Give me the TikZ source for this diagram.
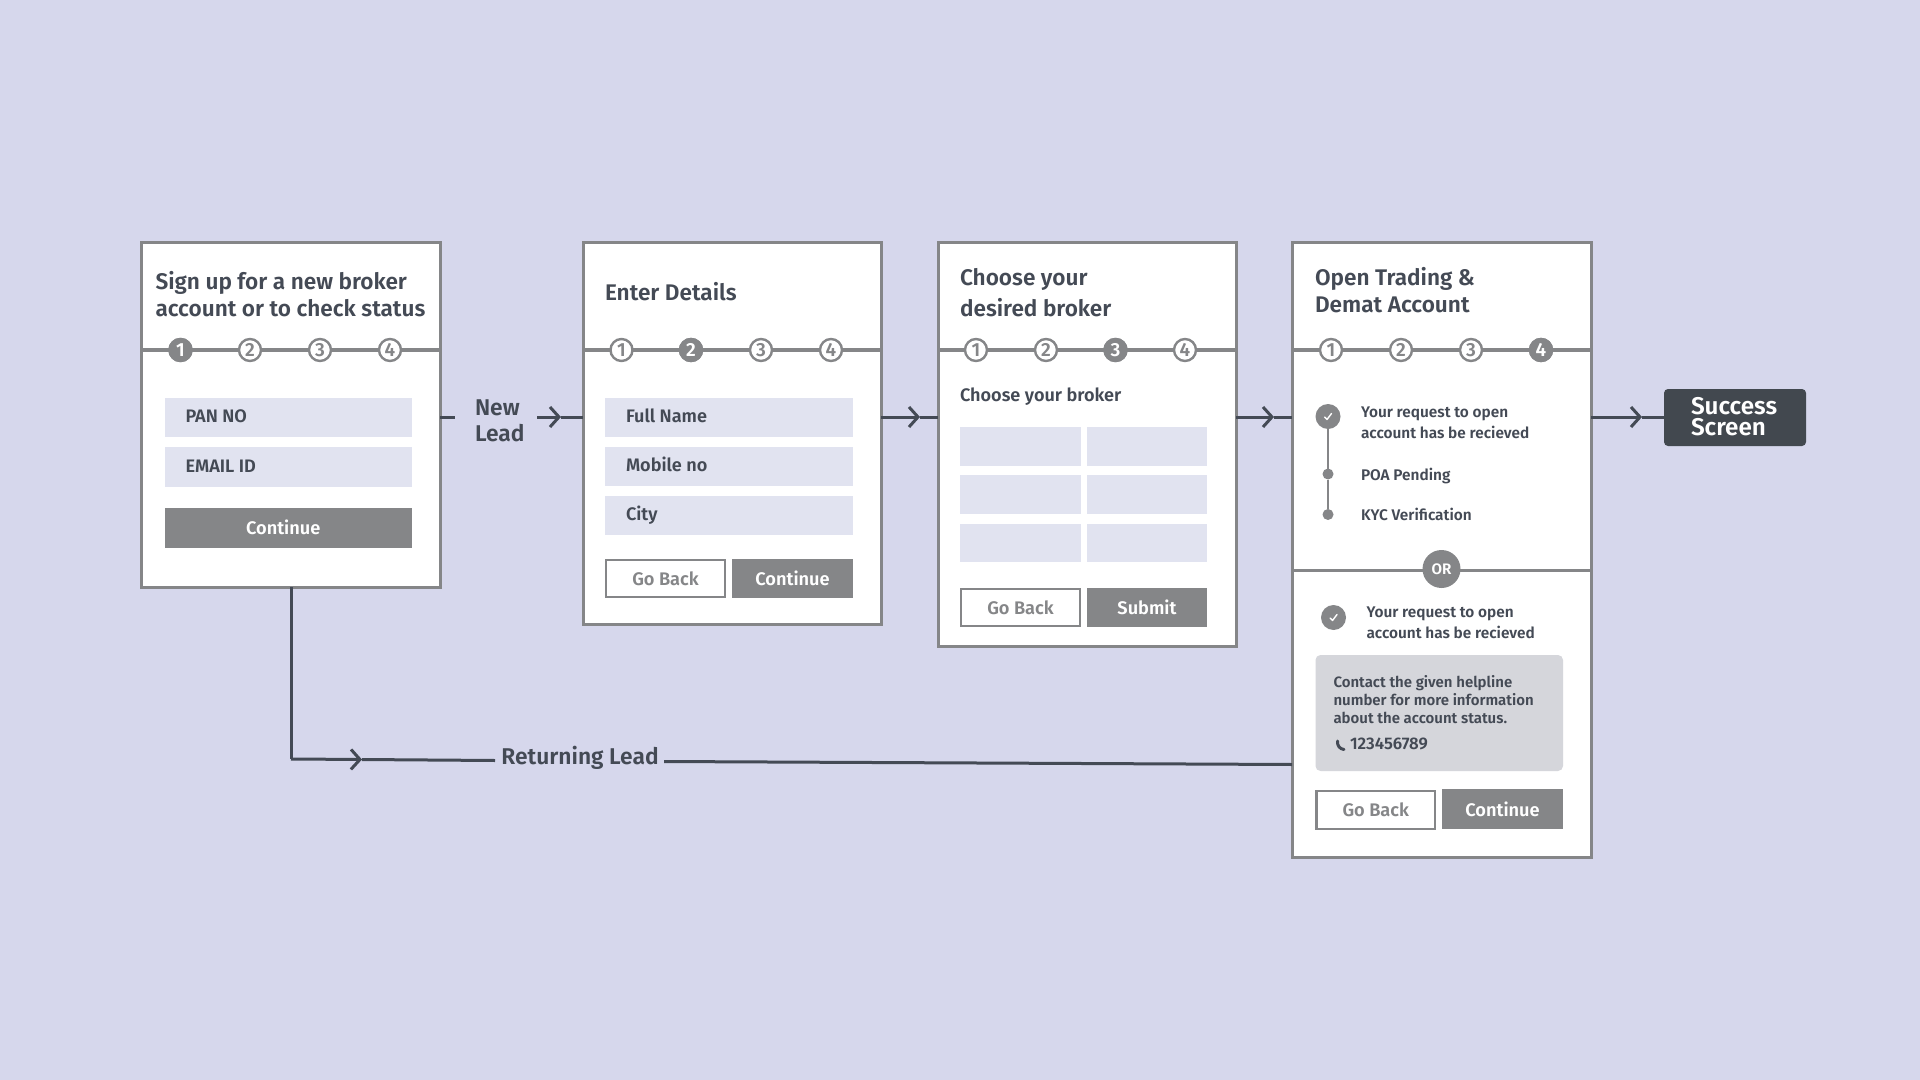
\documentclass[tikz,border=0pt]{standalone}
\usepackage{fontspec}
\setmainfont{Fira Sans}[BoldFont={Fira Sans SemiBold}]
\usetikzlibrary{arrows.meta}
\definecolor{bgc}{HTML}{D6D7EC}
\definecolor{fieldc}{HTML}{E1E3F0}
\definecolor{greyc}{HTML}{858688}
\definecolor{darkc}{HTML}{444A55}
\definecolor{notec}{HTML}{D5D6DB}
\definecolor{succ}{HTML}{42484F}
\tikzset{
 x=.5pt,y=-.5pt,
 every node/.style={inner sep=0pt,outer sep=0pt},
 cardbox/.style={draw=greyc,line width=1.5pt,fill=white},
 rule/.style={draw=greyc,line width=1.6pt},
 fieldbox/.style={fill=fieldc},
 fillbtn/.style={fill=greyc,text=white,font=\fontsize{9.1}{11}\selectfont\bfseries},
 linebtn/.style={draw=greyc,line width=1.3pt,fill=white,text=greyc,font=\fontsize{9.1}{11}\selectfont\bfseries},
 titletext/.style={text=darkc,align=left,font=\fontsize{11.3}{#1}\selectfont\bfseries},
 titletext/.default=13.5,
 fieldtext/.style={text=darkc,font=\fontsize{9.05}{11}\selectfont\bfseries,anchor=mid west},
 smalltext/.style={text=darkc,align=left,font=\fontsize{7.7}{10.5}\selectfont\bfseries},
 steppt/.style={circle,draw=greyc,line width=1.2pt,fill=white,text=greyc,minimum size=11pt,font=\fontsize{9.5}{10}\selectfont\bfseries},
 stepon/.style={circle,draw=greyc,line width=1.2pt,fill=greyc,text=white,minimum size=11pt,font=\fontsize{9.5}{10}\selectfont\bfseries},
 flow/.style={draw=darkc,line width=1.5pt},
 flowtip/.style={draw=darkc,line width=1.5pt,-{Straight Barb[length=4.5pt,width=10pt,line width=1.5pt]}},
 dotmark/.style={circle,fill=greyc,minimum size=5.5pt},
 okmark/.style={circle,fill=greyc,minimum size=12.5pt},
 tick/.style={draw=white,line width=.7pt,line cap=round,line join=round},
 flowlabel/.style={text=darkc,align=left,font=\fontsize{11.4}{13}\selectfont\bfseries},
}
\newcommand{\pxbox}[7]{\node[#6,minimum width={(#4-#2)*.5pt},minimum height={(#5-#3)*.5pt}] (#1) at ({(#2+#4)/2},{(#3+#5)/2}) {#7};}
\newcommand{\fieldrow}[6]{\pxbox{#1}{#2}{#3}{#4}{#5}{fieldbox}{}\node[fieldtext] (#1t) at ([xshift=10.5pt]#1.west) {#6};}
\newcommand{\stepnum}[1]{\if#1a1\fi\if#1b2\fi\if#1c3\fi\if#1d4\fi}
\newcommand{\stepsrow}[6]{%
 \draw[rule] (#1.west |- 0,350) -- (#1.east |- 0,350);
 \node[steppt] (#1a) at (#2,350) {1};
 \node[steppt] (#1b) at (#3,350) {2};
 \node[steppt] (#1c) at (#4,350) {3};
 \node[steppt] (#1d) at (#5,350) {4};
 \node[stepon] at (#1#6) {\stepnum{#6}};}
\newcommand{\tickmark}[1]{\draw[tick] ([shift={(-3.5,.5)}]#1.center) -- ([shift={(-1,3)}]#1.center) -- ([shift={(3.5,-3)}]#1.center);}
\begin{document}
\begin{tikzpicture}
\useasboundingbox[fill=bgc] (0,0) rectangle (1920,1080);
\coordinate (row) at (0,417);
% cards
\pxbox{cardA}{141.5}{243}{440}{587}{cardbox}{}
\pxbox{cardB}{583}{243}{881}{624}{cardbox}{}
\pxbox{cardC}{938}{243}{1236}{646}{cardbox}{}
\pxbox{cardD}{1292}{243}{1591}{857}{cardbox}{}
\stepsrow{cardA}{180.5}{250}{320}{390}{a}
\stepsrow{cardB}{621.5}{691}{761}{831}{b}
\stepsrow{cardC}{976}{1046}{1115.5}{1185}{c}
\stepsrow{cardD}{1331}{1401}{1471}{1541}{d}
% titles
\node[titletext,anchor=west] (tA) at (155.5,294) {Sign up for a new broker\\account or to check status};
\node[titletext,anchor=west] (tB) at (605,291.5) {Enter Details};
\node[titletext=15.4,anchor=west] (tC) at (960,293) {Choose your\\desired broker};
\node[titletext,anchor=west] (tD) at (1315,290) {Open Trading \&\\Demat Account};
% card A
\fieldrow{f1}{164.5}{398}{412}{437}{PAN NO}
\fieldrow{f2}{164.5}{447}{412}{486.5}{EMAIL ID}
\pxbox{aCont}{164.5}{508}{412}{547.5}{fillbtn}{\hspace*{-5pt}Continue}
% card B
\fieldrow{f3}{605}{398}{853}{437}{Full Name}
\fieldrow{f4}{605}{447}{853}{486}{Mobile no}
\fieldrow{f5}{605}{496}{853}{535}{City}
\pxbox{bBack}{606}{560}{725}{597}{linebtn}{Go Back}
\pxbox{bCont}{732}{559}{853}{598}{fillbtn}{Continue}
% card C
\node[fieldtext] (cHead) at (960,396.5) {Choose your broker};
\pxbox{g1}{960}{427}{1081}{465.5}{fieldbox}{}
\pxbox{g2}{1087}{427}{1207}{465.5}{fieldbox}{}
\pxbox{g3}{960}{475}{1081}{514}{fieldbox}{}
\pxbox{g4}{1087}{475}{1207}{514}{fieldbox}{}
\pxbox{g5}{960}{524}{1081}{562}{fieldbox}{}
\pxbox{g6}{1087}{524}{1207}{562}{fieldbox}{}
\pxbox{cBack}{961}{589}{1080}{626}{linebtn}{Go Back}
\pxbox{cSub}{1087}{588}{1207}{627}{fillbtn}{Submit}
% card D upper
\node[dotmark] (d1) at (1328,474) {};
\node[dotmark] (d2) at (1328,514.5) {};
\node[okmark] (ok1) at (1328,416.5) {};
\draw[rule,line width=1pt] (ok1) -- (d1) -- (d2);
\tickmark{ok1}
\node[smalltext,anchor=west] (s1) at (1361,422.5) {Your request to open\\account has be recieved};
\node[fieldtext,font=\fontsize{7.7}{10.5}\selectfont\bfseries] (s2) at (1361,475) {POA Pending};
\node[fieldtext,font=\fontsize{7.7}{10.5}\selectfont\bfseries] (s3) at (1361,515) {KYC Verification};
% OR divider
\draw[rule] (cardD.west |- 0,570.5) -- (cardD.east |- 0,570.5);
\node[circle,fill=greyc,text=white,minimum size=19pt,font=\fontsize{7.6}{10}\selectfont\bfseries] (orm) at (1441.5,569) {OR};
% card D lower
\node[okmark] (ok2) at (1333.5,617.5) {};
\tickmark{ok2}
\node[smalltext,anchor=west] (s4) at (1366.5,623) {Your request to open\\account has be recieved};
\pxbox{note}{1315.5}{655}{1563}{771}{fill=notec,rounded corners=2.5pt}{}
\node[smalltext,anchor=north west,font=\fontsize{7.5}{9}\selectfont\bfseries] (noteT) at (1333.5,675) {Contact the given helpline\\number for more information\\about the account status.};
\node[smalltext,anchor=mid west,font=\fontsize{8.4}{9}\selectfont\bfseries] (noteP) at (1350,744) {123456789};
\draw[darkc,line width=1.5pt,line cap=round] (1337.5,741) .. controls (1337,746) and (1340,749) .. (1344,749.5);
\pxbox{dBack}{1316.5}{791}{1435}{829}{linebtn}{Go Back}
\pxbox{dCont}{1442}{789}{1563}{829}{fillbtn}{Continue}
% success
\pxbox{succ}{1664}{389}{1806}{446}{fill=succ,rounded corners=2pt}{}
\node[text=white,align=left,anchor=west,font=\fontsize{12.1}{10.6}\selectfont\bfseries] (succT) at (1691,417) {Success\\Screen};
% labels
\node[flowlabel,anchor=west] (newl) at (475,421) {New\\Lead};
\node[flowlabel] (retl) at (580,757.5) {Returning Lead};
% connectors
\coordinate (tip1) at (561,417);
\coordinate (tip2) at (920,417);
\coordinate (tip3) at (1274,417);
\coordinate (tip4) at (1642,417);
\coordinate (stub) at (455,417);
\coordinate (nlout) at (537,417);
\draw[flow] (cardA.east |- row) -- (stub);
\draw[flowtip] (nlout) -- (tip1);
\draw[flow] (tip1) -- (cardB.west |- row);
\draw[flowtip] (cardB.east |- row) -- (tip2);
\draw[flow] (tip2) -- (cardC.west |- row);
\draw[flowtip] (cardC.east |- row) -- (tip3);
\draw[flow] (tip3) -- (cardD.west |- row);
\draw[flowtip] (cardD.east |- row) -- (tip4);
\draw[flow] (tip4) -- (succ.west |- row);
\coordinate (rbend) at (291,759);
\coordinate (tip5) at (362,759.5);
\coordinate (rin) at (495,760.5);
\coordinate (rout) at (664,761.5);
\coordinate (rend) at (1292,764.5);
\draw[flow] (cardA.south -| rbend) -- (rbend);
\draw[flowtip] (rbend) -- (tip5);
\draw[flow] (tip5) -- (rin);
\draw[flow] (rout) -- (rend);
\end{tikzpicture}
\end{document}
